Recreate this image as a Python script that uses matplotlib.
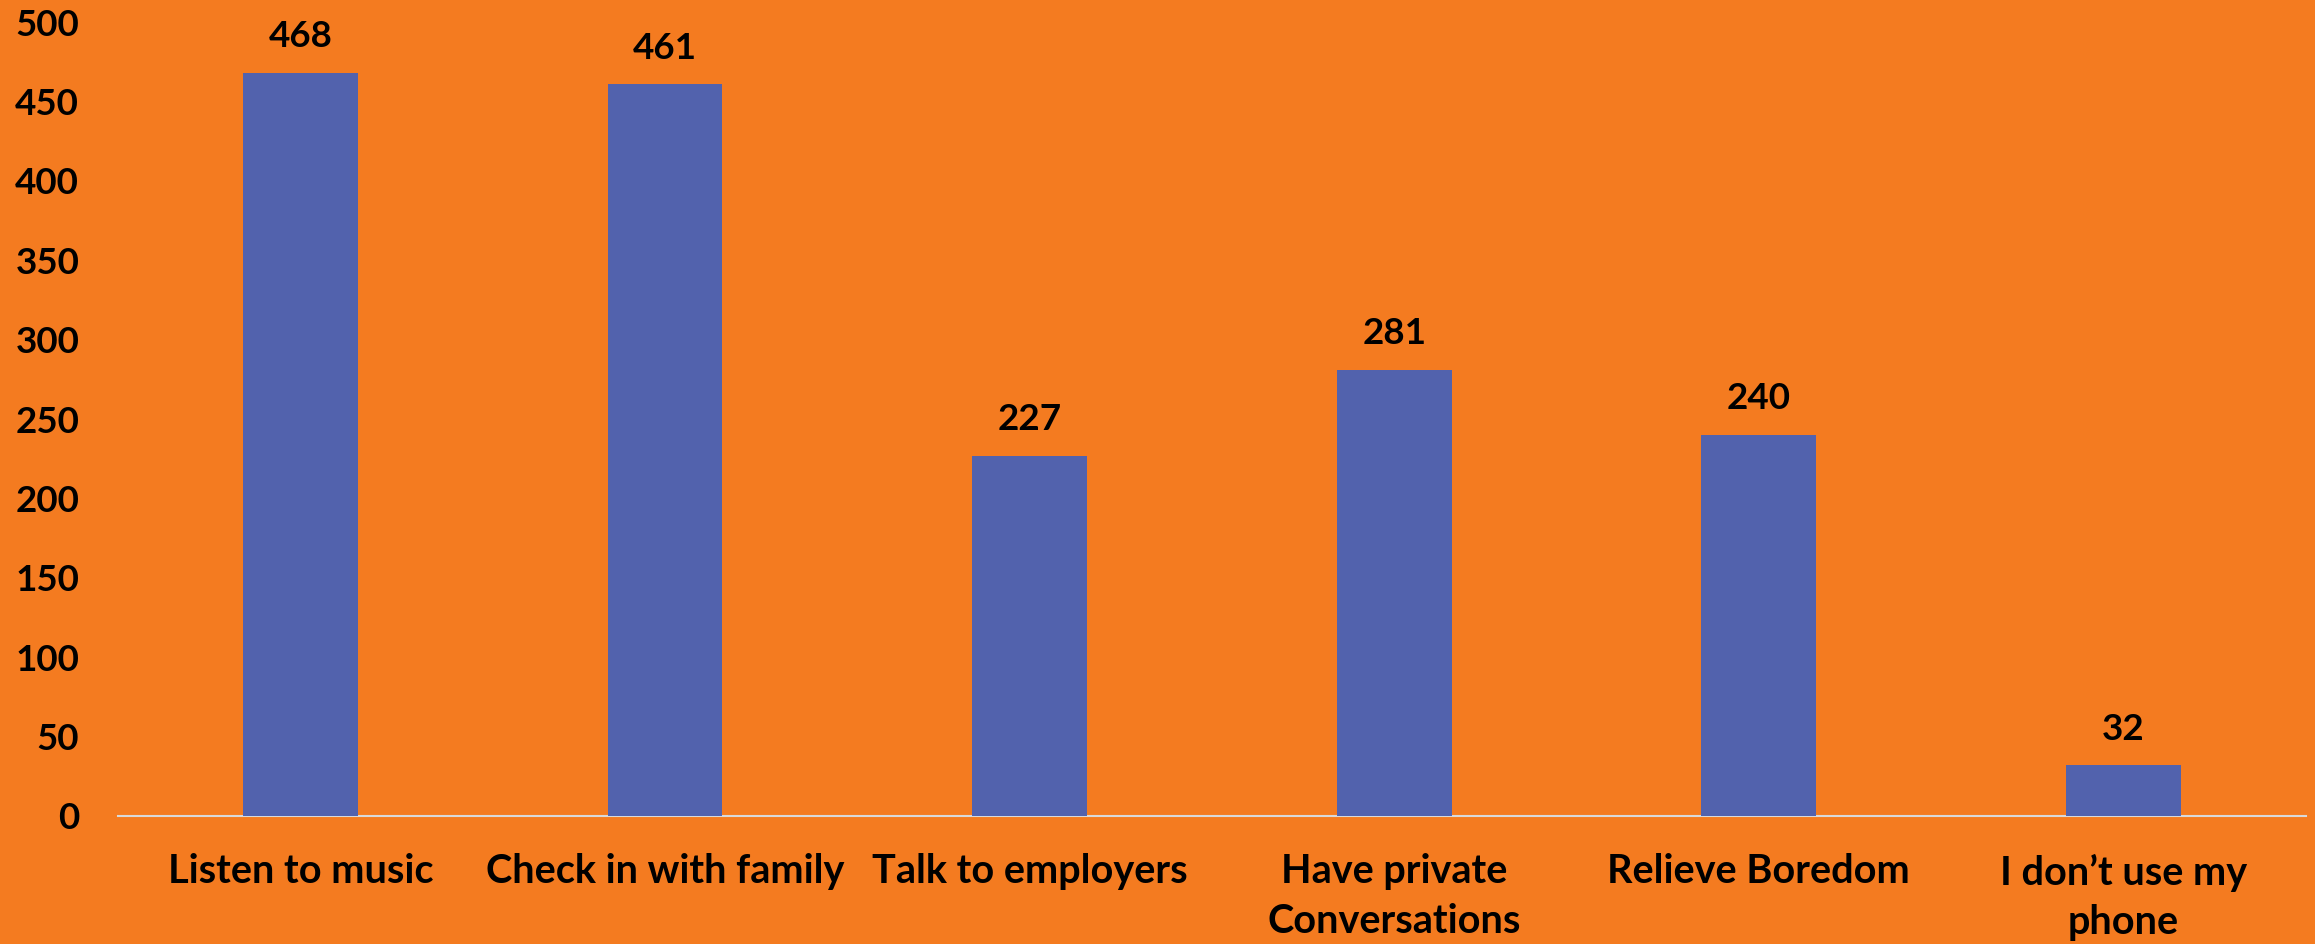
import matplotlib
matplotlib.use("Agg")
import matplotlib.pyplot as plt

# data
categories = ["Listen to music", "Check in with family", "Talk to employers",
              "Have private\nConversations", "Relieve Boredom", "I don\u2019t use my\nphone"]
values = [468, 461, 227, 281, 240, 32]
yticks = [0, 50, 100, 150, 200, 250, 300, 350, 400, 450, 500]

bg = "#F47B20"
bar_color = "#5262AD"

plt.rcParams['font.family'] = ['Lato', 'DejaVu Sans']
plt.rcParams['font.weight'] = 'bold'

fig = plt.figure(figsize=(23.15, 9.44), dpi=100, facecolor=bg)
ax = fig.add_axes([0.051, 0.1356, 0.945, 0.841])
ax.set_facecolor(bg)

x = range(len(categories))
bars = ax.bar(x, values, width=0.315, color=bar_color, zorder=3)

for xi, v in zip(x, values):
    ax.annotate(str(v), (xi, v), xytext=(0, 14), textcoords="offset points",
                ha="center", va="bottom", fontsize=26.5, fontweight="bold", color="black")

ax.set_xlim(-0.5, len(categories) - 0.5)
ax.set_ylim(0, 500)
ax.set_yticks(yticks)
ax.set_yticklabels([str(t) for t in yticks], fontsize=26.5, fontweight="bold")
ax.set_xticks(list(x))
ax.set_xticklabels(categories, fontsize=28.5, fontweight="bold", linespacing=1.42)
ax.tick_params(axis="y", length=0, pad=28)
ax.tick_params(axis="x", length=0, pad=27)

for s in ["top", "right", "left"]:
    ax.spines[s].set_visible(False)
ax.spines["bottom"].set_color("#D9D9D9")
ax.spines["bottom"].set_linewidth(1.5)

fig.savefig("out.png", dpi=100, facecolor=bg)
